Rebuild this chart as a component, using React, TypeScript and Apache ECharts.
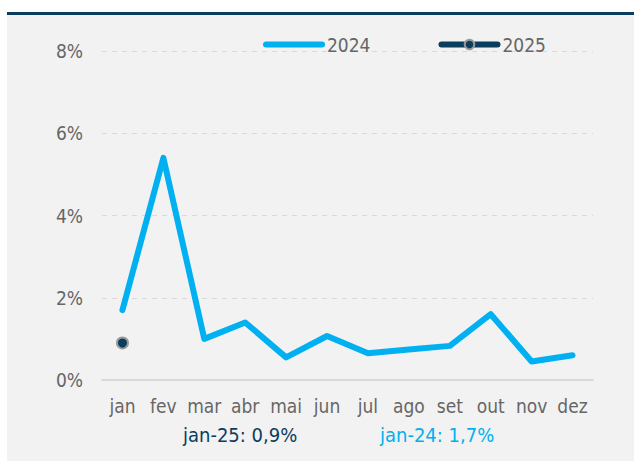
import React, { useEffect, useRef } from "react";
import * as echarts from "echarts";

const months = ["jan", "fev", "mar", "abr", "mai", "jun", "jul", "ago", "set", "out", "nov", "dez"];
const values2024 = [1.7, 5.4, 1.0, 1.4, 0.55, 1.07, 0.65, 0.74, 0.83, 1.6, 0.45, 0.6];
const values2025 = [0.9];
const yTicks = { min: 0, max: 8, interval: 2 };
const noteLabels = ["jan-25: 0,9%", "jan-24: 1,7%"];

const LIGHT = "#00b0f0";
const DARK = "#0b3d5e";
const FONT = "'DejaVu Sans Condensed', 'DejaVu Sans', sans-serif";
const GRAY = "#666666";

export default function App() {
  const ref = useRef<HTMLDivElement>(null);
  useEffect(() => {
    if (!ref.current) return;
    const chart = echarts.init(ref.current, null, { renderer: "svg" });
    chart.setOption({
      animation: false,
      backgroundColor: "#ffffff",
      textStyle: { fontFamily: FONT },
      graphic: [
        { type: "rect", z: -10, shape: { x: 7, y: 15, width: 627, height: 446 }, style: { fill: "#f2f2f2" } },
        { type: "rect", z: -10, shape: { x: 7, y: 12, width: 627, height: 3 }, style: { fill: DARK } },
        {
          type: "text", left: 183, top: 425,
          style: { text: noteLabels[0], fill: DARK, fontSize: 20, fontFamily: FONT },
        },
        {
          type: "text", left: 380, top: 425,
          style: { text: noteLabels[1], fill: LIGHT, fontSize: 20, fontFamily: FONT },
        },
      ],
      legend: {
        left: 258,
        top: 30,
        itemWidth: 56,
        itemHeight: 12,
        itemGap: 68,
        lineStyle: { width: 6, cap: "round" },
        textStyle: { fontSize: 19, color: GRAY, fontFamily: FONT },
        data: [
          { name: "2024", itemStyle: { opacity: 0 } },
          { name: "2025" },
        ],
      },
      grid: { left: 102, right: 41, top: 51, bottom: 82 },
      xAxis: {
        type: "category",
        data: months,
        boundaryGap: true,
        axisTick: { show: false },
        axisLine: { lineStyle: { color: "#d9d9d9", width: 2 } },
        axisLabel: { color: GRAY, fontSize: 19, margin: 16, fontFamily: FONT, interval: 0 },
      },
      yAxis: {
        type: "value",
        min: yTicks.min,
        max: yTicks.max,
        interval: yTicks.interval,
        axisLine: { show: false },
        axisTick: { show: false },
        axisLabel: { color: GRAY, fontSize: 19, margin: 19, formatter: "{value}%", fontFamily: FONT },
        splitLine: { lineStyle: { color: "#d9d9d9", type: [5, 5], width: 1 } },
      },
      series: [
        {
          name: "2024",
          type: "line",
          data: values2024,
          symbol: "none",
          color: LIGHT,
          lineStyle: { color: LIGHT, width: 6, cap: "round", join: "round" },
        },
        {
          name: "2025",
          type: "line",
          data: values2025,
          symbol: "circle",
          symbolSize: 11,
          color: DARK,
          itemStyle: { color: DARK, borderColor: "#9a9a9a", borderWidth: 2 },
          lineStyle: { color: DARK, width: 6, cap: "round" },
        },
      ],
    });
    return () => chart.dispose();
  }, []);
  return (
    <div
      ref={ref}
      style={{ position: "fixed", left: 0, top: 0, width: 634, height: 462 }}
    />
  );
}
